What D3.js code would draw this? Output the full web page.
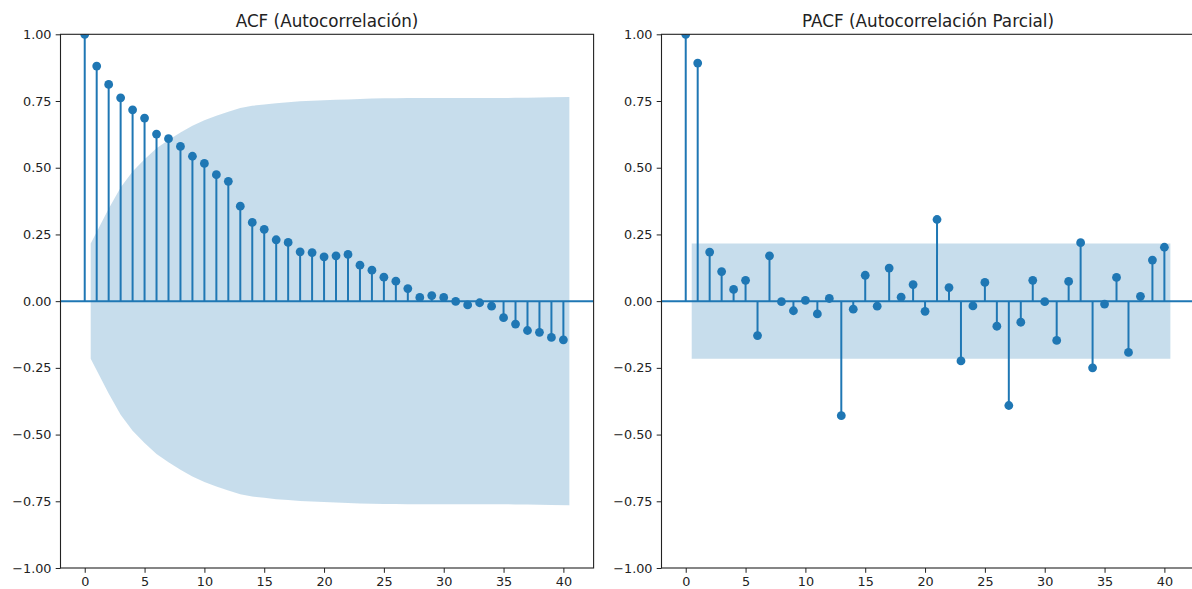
<!DOCTYPE html>
<html>
<head>
<meta charset="utf-8">
<script src="https://cdn.jsdelivr.net/npm/d3@7"></script>
<style>
  body { margin: 0; background: #ffffff; }
  svg { display: block; }
  text { font-family: "DejaVu Sans", sans-serif; fill: #222; }
</style>
</head>
<body>
<svg id="chart" width="1192" height="589"></svg>
<script>
// Lags 0..40
const lags = d3.range(0, 41);

// Sample autocorrelation, lags 0..40
const acfValues = [
  1.000, 0.881, 0.812, 0.762, 0.717, 0.686, 0.626, 0.609, 0.580, 0.543,
  0.516, 0.474, 0.449, 0.356, 0.295, 0.269, 0.230, 0.220, 0.185, 0.182,
  0.166, 0.170, 0.175, 0.135, 0.116, 0.090, 0.075, 0.047, 0.014, 0.021,
  0.014, -0.001, -0.014, -0.006, -0.019, -0.062, -0.086, -0.110, -0.117, -0.136,
  -0.145
];

// Partial autocorrelation, lags 0..40
const pacfValues = [
  1.000, 0.892, 0.184, 0.111, 0.044, 0.078, -0.129, 0.170, -0.002, -0.036,
  0.003, -0.048, 0.010, -0.429, -0.030, 0.097, -0.019, 0.124, 0.015, 0.062,
  -0.038, 0.306, 0.051, -0.224, -0.018, 0.070, -0.094, -0.391, -0.079, 0.078,
  -0.002, -0.147, 0.074, 0.219, -0.250, -0.011, 0.089, -0.192, 0.018, 0.154,
  0.202
];

// 95% confidence half-widths, lags 1..40
const acfBand = [
  0.216, 0.346, 0.426, 0.486, 0.532, 0.573, 0.604, 0.632, 0.657, 0.678,
  0.695, 0.710, 0.724, 0.732, 0.737, 0.742, 0.745, 0.749, 0.751, 0.753,
  0.755, 0.756, 0.758, 0.759, 0.760, 0.760, 0.761, 0.761, 0.761, 0.761,
  0.761, 0.761, 0.761, 0.761, 0.761, 0.762, 0.762, 0.763, 0.764, 0.765
];
const pacfBand = [
  0.216, 0.216, 0.216, 0.216, 0.216, 0.216, 0.216, 0.216, 0.216, 0.216,
  0.216, 0.216, 0.216, 0.216, 0.216, 0.216, 0.216, 0.216, 0.216, 0.216,
  0.216, 0.216, 0.216, 0.216, 0.216, 0.216, 0.216, 0.216, 0.216, 0.216,
  0.216, 0.216, 0.216, 0.216, 0.216, 0.216, 0.216, 0.216, 0.216, 0.216
];

const xTicks = [0, 5, 10, 15, 20, 25, 30, 35, 40];
const yTicks = [-1.00, -0.75, -0.50, -0.25, 0.00, 0.25, 0.50, 0.75, 1.00];
const titles = ["ACF (Autocorrelación)", "PACF (Autocorrelación Parcial)"];

const BLUE = "#1f77b4";
const svg = d3.select("#chart");

const panels = [
  { left: 60.5,  right: 593.6,  values: acfValues,  band: acfBand,  title: titles[0] },
  { left: 661.5, right: 1194.6, values: pacfValues, band: pacfBand, title: titles[1] }
];
const plotTop = 34.3, plotBottom = 568;

panels.forEach((p, i) => {
  const x = d3.scaleLinear().domain([-2.025, 42.525]).range([p.left, p.right]);
  const y = d3.scaleLinear().domain([-1, 1]).range([plotBottom, plotTop]);

  const g = svg.append("g");
  const clipId = "clip" + i;
  g.append("clipPath").attr("id", clipId)
    .append("rect")
    .attr("x", p.left).attr("y", plotTop)
    .attr("width", p.right - p.left).attr("height", plotBottom - plotTop);

  const plot = g.append("g").attr("clip-path", `url(#${clipId})`);

  // Confidence band: x positions are lags 1..40 with the ends pushed out by half a lag
  const bandPts = p.band.map((v, k) => {
    let lx = k + 1;
    if (k === 0) lx -= 0.5;
    if (k === p.band.length - 1) lx += 0.5;
    return { lx, v };
  });
  plot.append("path")
    .datum(bandPts)
    .attr("fill", BLUE)
    .attr("fill-opacity", 0.25)
    .attr("stroke", "none")
    .attr("d", d3.area().x(d => x(d.lx)).y0(d => y(-d.v)).y1(d => y(d.v)));

  // Stems
  plot.selectAll("line.stem")
    .data(lags)
    .join("line")
    .attr("class", "stem")
    .attr("x1", k => x(k)).attr("x2", k => x(k))
    .attr("y1", y(0)).attr("y2", k => y(p.values[k]))
    .attr("stroke", BLUE).attr("stroke-width", 2);

  // Zero line across the axes
  plot.append("line")
    .attr("x1", p.left).attr("x2", p.right)
    .attr("y1", y(0)).attr("y2", y(0))
    .attr("stroke", BLUE).attr("stroke-width", 2);

  // Markers
  plot.selectAll("circle.pt")
    .data(lags)
    .join("circle")
    .attr("class", "pt")
    .attr("cx", k => x(k)).attr("cy", k => y(p.values[k]))
    .attr("r", 4.4)
    .attr("fill", BLUE);

  // Axes
  const yAxis = d3.axisLeft(y).tickValues(yTicks).tickFormat(d3.format(".2f"))
    .tickSize(4.8).tickPadding(4.2);
  const xAxis = d3.axisBottom(x).tickValues(xTicks).tickFormat(d3.format("d"))
    .tickSize(4.8).tickPadding(4.2);

  const ya = g.append("g").attr("transform", `translate(${p.left},0)`).call(yAxis);
  const xa = g.append("g").attr("transform", `translate(0,${plotBottom})`).call(xAxis);
  [ya, xa].forEach(a => {
    a.select(".domain").remove();
    a.selectAll(".tick line").attr("stroke", "#222").attr("stroke-width", 1);
    a.selectAll(".tick text").attr("font-size", "12.8px").attr("fill", "#222")
      .style("font-family", "'DejaVu Sans', sans-serif");
  });

  // Frame
  g.append("rect")
    .attr("x", p.left).attr("y", plotTop)
    .attr("width", p.right - p.left).attr("height", plotBottom - plotTop)
    .attr("fill", "none").attr("stroke", "#222").attr("stroke-width", 1.1);

  // Title
  g.append("text")
    .attr("x", (p.left + p.right) / 2).attr("y", 26.5)
    .attr("text-anchor", "middle")
    .attr("font-size", "16.8px")
    .text(p.title);
});
</script>
</body>
</html>
